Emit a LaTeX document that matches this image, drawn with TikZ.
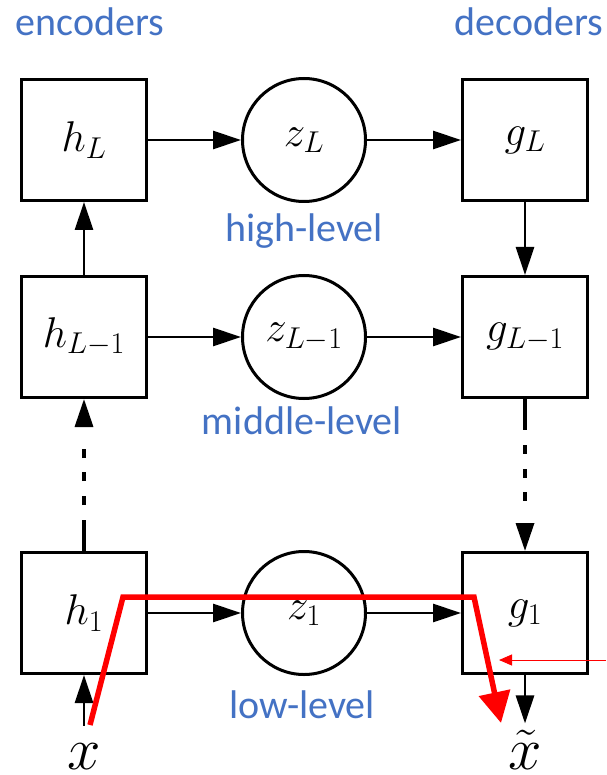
\RequirePackage{fix-cm}
\documentclass[tikz,border=0pt]{standalone}
\usepackage{fontspec}
\newfontfamily\calibri{Carlito}
\usetikzlibrary{arrows.meta}
\definecolor{ofblue}{HTML}{4472C4}
\definecolor{pred}{HTML}{FF0000}
\begin{document}
\begin{tikzpicture}[x=1pt,y=-1pt,
  box/.style={draw, line width=3pt, minimum width=125pt, minimum height=121pt, inner sep=0pt, font=\fontsize{43}{50}\selectfont},
  circ/.style={draw, circle, line width=3pt, minimum size=123pt, inner sep=0pt, font=\fontsize{43}{50}\selectfont},
  arr/.style={line width=2.8pt, -{Triangle[length=28pt,width=18pt]}},
  dotarr/.style={arr, line width=3.4pt, dash pattern=on 31pt off 15pt on 9pt off 15pt on 9pt off 14pt on 9pt off 80pt},
  lbl/.style={font=\calibri\fontsize{40}{48}\selectfont, text=ofblue, anchor=base, inner sep=0pt},
  bigvar/.style={font=\fontsize{60}{60}\selectfont, inner sep=0pt, anchor=base},
  redpath/.style={draw=pred, line width=5.5pt, -{Triangle[length=31pt,width=31pt]}},
  thinred/.style={draw=pred, line width=1pt, -{Triangle[length=13pt,width=11pt]}}
]
\fill[white] (0,0) rectangle (606,775);
\useasboundingbox (0,0) rectangle (606,775);

% titles and level labels
\node[lbl] (enc) at (90,36) {encoders};
\node[lbl] (dec) at (529,36) {decoders};
\node[lbl] (hlev) at (304,242) {high-level};
\node[lbl] (mlev) at (302,434) {middle-level};
\node[lbl] (llev) at (302,718) {low-level};

% encoders
\node[box] (hL) at (84,140) {$h_L$};
\node[box] (h2) at (84,337) {$h_{L-1}$};
\node[box] (h1) at (84,613) {$h_1$};
% latent codes
\node[circ] (zL) at (304,140) {$z_L$};
\node[circ] (z2) at (304,337) {$z_{L-1}$};
\node[circ] (z1) at (304,613) {$z_1$};
% decoders
\node[box] (gL) at (525,140) {$g_L$};
\node[box] (g2) at (525,337) {$g_{L-1}$};
\node[box] (g1) at (525,613) {$g_1$};

% input / output
\node[bigvar] (xin) at (84,769) {$x$};
\node[bigvar] (xt) at (525,769) {$\tilde{x}$};

% horizontal connectors
\draw[arr] (hL) -- (zL);
\draw[arr] (zL) -- (gL);
\draw[arr] (h2) -- (z2);
\draw[arr] (z2) -- (g2);
\draw[arr] (h1) -- (z1);
\draw[arr] (z1) -- (g1);

% vertical connectors
\draw[arr] (h2) -- (hL);
\draw[dotarr] (h1) -- (h2);
\draw[arr] (gL) -- (g2);
\draw[dotarr] (g2) -- (g1);
\draw[arr, shorten <=17pt] (xin.north) -- (h1.south);
\draw[arr, shorten >=6pt] (g1.south) -- (xt.north);

% red annotation
\coordinate (r1) at (90,725);
\coordinate (r2) at (123,597);
\coordinate (r3) at (474,597);
\coordinate (r4) at (501,723);
\draw[redpath] (r1) -- (r2) -- (r3) -- (r4);
\coordinate (t1) at (606,660);
\coordinate (t2) at (499,660);
\draw[thinred] (t1) -- (t2);
\end{tikzpicture}
\end{document}
